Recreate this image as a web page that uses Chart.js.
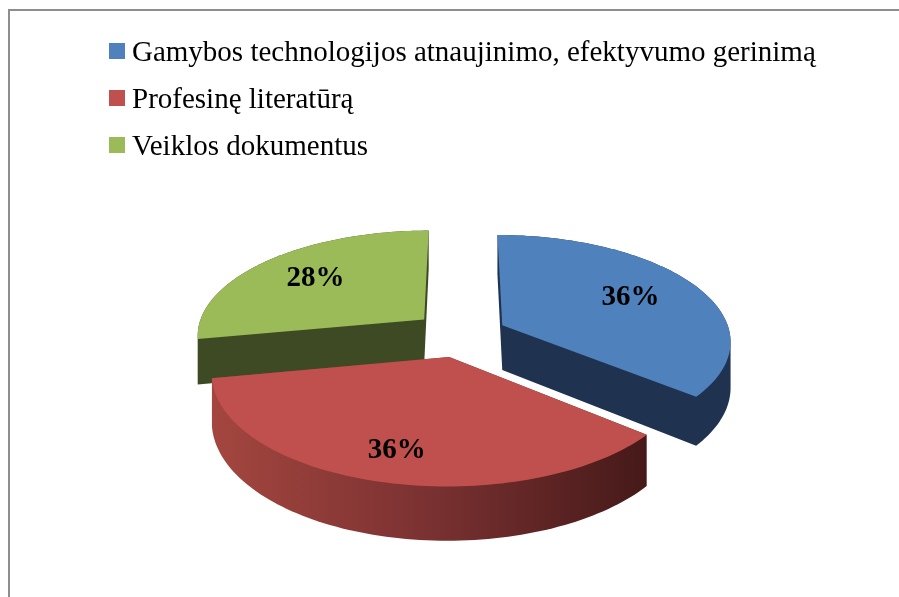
<!DOCTYPE html>
<html><head><meta charset="utf-8">
<script src="https://cdn.jsdelivr.net/npm/chart.js@4.4.0/dist/chart.umd.min.js"></script>
<style>
html,body{margin:0;padding:0;background:#fff;overflow:hidden}
#wrap{position:relative;width:899px;height:597px;overflow:hidden}
#frame{position:absolute;left:8px;top:9px;width:1000px;height:800px;border-left:2px solid #8e8e8e;border-top:2px solid #8e8e8e}
canvas{position:absolute;left:0;top:0}
#legend{position:absolute;left:0;top:0;font-family:"Liberation Serif","Times New Roman",serif;font-size:29px;color:#000}
.item{position:absolute;left:109px;height:28px;display:flex;align-items:center;white-space:nowrap;line-height:28px}
.sw{display:inline-block;width:16px;height:16px;margin-right:7px;flex:none}
</style></head>
<body>
<div id="wrap">
  <div id="frame"></div>
  <canvas id="c" width="899" height="597"></canvas>
  <div id="legend"></div>
</div>
<script>
// ---- data ----
const categories = ['Gamybos technologijos atnaujinimo, efektyvumo gerinimą', 'Profesinę literatūrą', 'Veiklos dokumentus'];
const values = [36, 36, 28];
const topColors = ['#4f81bd', '#c0504d', '#9bbb59'];
const sideColors = ['#1f3250', null, '#3e4a24'];
const explodeOffsets = [45, 50, 50];
const labelRadius = [0.66, 0.78, 0.68];

// ---- legend (HTML text) ----
const legendTops = [37, 84, 131];
const lg = document.getElementById('legend');
categories.forEach((c, i) => {
  const d = document.createElement('div');
  d.className = 'item';
  d.style.top = legendTops[i] + 'px';
  const s = document.createElement('span');
  s.className = 'sw';
  s.style.background = topColors[i];
  d.appendChild(s);
  d.appendChild(document.createTextNode(c));
  lg.appendChild(d);
});

// ---- 3D projection plugin ----
const V = { q: 0.46, cz: 0.888, p: 0.0006, h: 51 };
function proj(cx, cy, X, Y, Z) {
  const w = 1 - V.p * Y;
  return [cx + X / w, cy + (V.q * Y - V.cz * Z) / w];
}
function hull(pts) {
  const p = pts.slice().sort((a, b) => a[0] - b[0] || a[1] - b[1]);
  const cross = (o, a, b) => (a[0] - o[0]) * (b[1] - o[1]) - (a[1] - o[1]) * (b[0] - o[0]);
  const lo = [], up = [];
  for (const pt of p) { while (lo.length >= 2 && cross(lo[lo.length - 2], lo[lo.length - 1], pt) <= 0) lo.pop(); lo.push(pt); }
  for (let i = p.length - 1; i >= 0; i--) { const pt = p[i]; while (up.length >= 2 && cross(up[up.length - 2], up[up.length - 1], pt) <= 0) up.pop(); up.push(pt); }
  up.pop(); lo.pop();
  return lo.concat(up);
}
function poly(ctx, pts) {
  ctx.beginPath();
  pts.forEach((p, i) => i ? ctx.lineTo(p[0], p[1]) : ctx.moveTo(p[0], p[1]));
  ctx.closePath();
}

const pie3d = {
  id: 'pie3d',
  beforeDatasetsDraw(chart) {
    const ctx = chart.ctx;
    const meta = chart.getDatasetMeta(0);
    const total = values.reduce((a, b) => a + b, 0);
    const slices = meta.data.map((a, i) => {
      const pr = a.getProps(['x', 'y', 'startAngle', 'endAngle', 'outerRadius'], true);
      const off = a.options.offset || 0;
      const mid = (pr.startAngle + pr.endAngle) / 2;
      const ox = Math.cos(mid) * off, oy = Math.sin(mid) * off;
      const R = pr.outerRadius;
      const plan = [[ox, oy]];
      const n = 90;
      for (let k = 0; k <= n; k++) {
        const t = pr.startAngle + (pr.endAngle - pr.startAngle) * k / n;
        plan.push([ox + R * Math.cos(t), oy + R * Math.sin(t)]);
      }
      const top = plan.map(p => proj(pr.x, pr.y, p[0], p[1], 0));
      const bot = plan.map(p => proj(pr.x, pr.y, p[0], p[1], -V.h));
      const lt = labelRadius[i] * R;
      const lab = proj(pr.x, pr.y, ox + lt * Math.cos(mid), oy + lt * Math.sin(mid), 0);
      return { i, oy, top, bot, lab, color: a.options.backgroundColor, pct: Math.round(values[i] / total * 100) + '%' };
    });
    const order = slices.slice().sort((a, b) => a.oy - b.oy);
    ctx.save();
    // side walls
    order.forEach(s => {
      const h = hull(s.top.concat(s.bot));
      if (sideColors[s.i]) {
        ctx.fillStyle = sideColors[s.i];
      } else {
        const xs = h.map(p => p[0]);
        const g = ctx.createLinearGradient(Math.min(...xs), 0, Math.max(...xs), 0);
        g.addColorStop(0, '#a4463f');
        g.addColorStop(0.5, '#7a3131');
        g.addColorStop(1, '#461919');
        ctx.fillStyle = g;
      }
      poly(ctx, h);
      ctx.fill();
    });
    // top faces
    order.forEach(s => {
      ctx.fillStyle = s.color;
      poly(ctx, s.top);
      ctx.fill();
    });
    // labels
    ctx.fillStyle = '#000';
    ctx.font = 'bold 29px "Liberation Serif", "Times New Roman", serif';
    ctx.textAlign = 'center';
    ctx.textBaseline = 'middle';
    slices.forEach(s => ctx.fillText(s.pct, s.lab[0], s.lab[1]));
    ctx.restore();
    return false;
  }
};

new Chart(document.getElementById('c'), {
  type: 'pie',
  data: {
    labels: categories,
    datasets: [{
      data: values,
      backgroundColor: topColors,
      borderWidth: 0,
      offset: explodeOffsets
    }]
  },
  options: {
    responsive: false,
    animation: false,
    radius: 228,
    layout: { padding: { left: 25, right: 0, top: 71, bottom: 0 } },
    plugins: { legend: { display: false }, tooltip: { enabled: false } }
  },
  plugins: [pie3d]
});
</script>
</body></html>
